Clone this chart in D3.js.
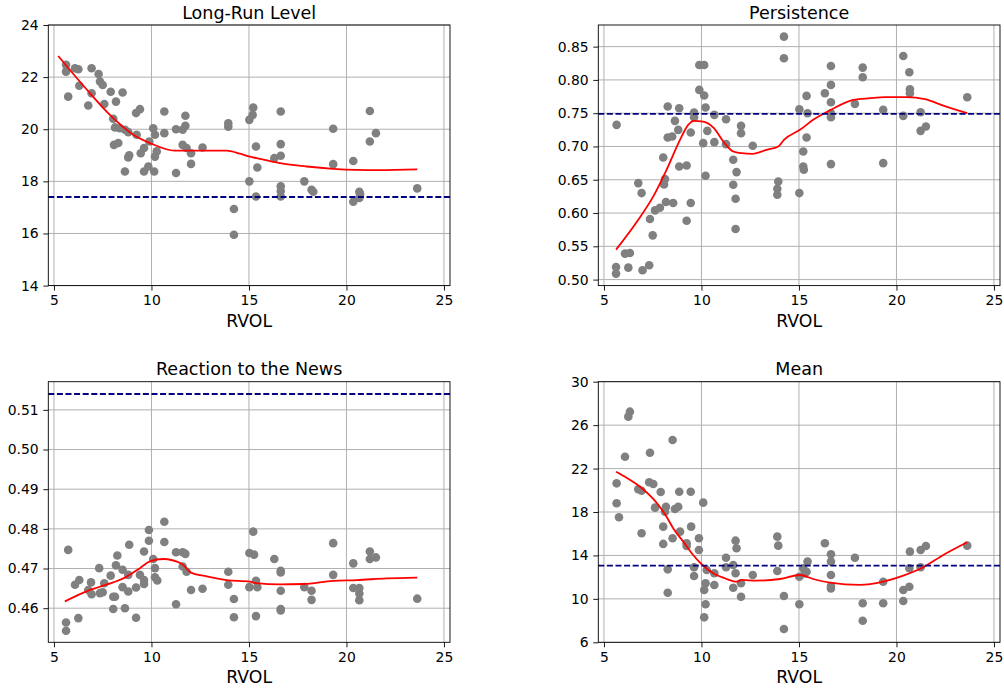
<!DOCTYPE html>
<html><head><meta charset="utf-8">
<script src="https://cdn.jsdelivr.net/npm/d3@7"></script>
<style>body{margin:0;background:#fff} svg{display:block} text{font-family:"DejaVu Sans",sans-serif;fill:#000}</style>
</head><body><svg id="c" width="1004" height="689"></svg>
<script>
// ---------- data ----------
const titles = ["Long-Run Level", "Persistence", "Reaction to the News", "Mean"];
const xLabel = "RVOL";
const xTicks = [5, 10, 15, 20, 25];
const xDomain = [4.71, 25.31];

// Long-Run Level
const lrX = [5.62,5.62,5.73,6.08,6.25,6.30,6.93,6.76,6.93,7.29,
             7.36,7.50,7.58,7.91,8.18,8.52,8.04,8.13,8.38,8.64,
             8.81,8.08,8.30,8.64,8.81,8.86,9.24,9.21,9.41,9.45,
             9.62,9.62,9.84,9.89,10.09,10.18,10.14,10.18,10.27,10.66,
             10.66,11.26,11.26,11.60,11.74,11.74,11.60,11.80,12.03,12.03,
             12.62,13.94,13.94,14.23,14.23,15.02,15.19,15.22,15.36,15.43,
             15.02,15.36,16.63,16.63,16.30,16.63,16.63,16.63,16.63,17.84,
             18.21,18.30,19.32,19.32,20.35,20.35,20.66,20.66,20.70,21.20,
             21.20,21.51,23.63];
const lrY = [22.47,22.21,21.25,22.34,22.30,21.67,22.34,20.91,21.38,22.12,
             21.83,21.70,20.97,21.44,21.06,21.41,20.40,20.07,20.04,19.98,
             19.89,19.40,19.47,18.38,18.92,19.00,19.79,20.62,20.77,19.08,
             19.28,18.38,18.57,19.53,20.04,19.79,18.38,18.95,19.15,20.68,
             19.85,20.00,18.32,19.98,20.52,20.13,19.40,19.28,19.08,18.67,
             19.30,20.23,20.10,16.94,15.95,20.36,20.55,20.83,19.34,18.53,
             18.00,17.42,20.68,19.43,18.89,18.98,17.81,17.63,17.42,18.00,
             17.68,17.60,20.02,18.66,18.78,17.22,17.36,17.60,17.50,20.70,
             19.53,19.85,17.73];
const lrFitX = [5.22,6.85,7.87,9.07,9.92,11.2,13.86,14.54,15.05,15.4,16.59,17.96,19.32,20.52,21.72,23.63];
const lrFitY = [22.81,21.38,20.55,19.79,19.47,19.18,19.18,19.06,18.95,18.89,18.70,18.57,18.48,18.44,18.43,18.46];
const lrRef = 17.40;
const lrTicks = [14, 16, 18, 20, 22, 24];

// Persistence
const peX = [5.65,5.62,5.62,6.08,6.33,6.25,6.76,6.93,6.98,7.32,
             7.36,7.50,7.62,7.87,8.04,8.13,8.08,8.18,8.27,8.27,
             8.50,8.55,8.64,8.86,8.81,8.86,9.24,9.24,9.45,9.45,
             9.62,9.62,9.89,9.89,10.14,10.14,10.21,10.09,10.30,10.21,
             10.66,10.66,11.26,11.26,11.63,11.63,11.80,11.75,11.75,12.03,
             12.03,12.63,14.23,14.23,13.94,13.89,13.89,15.02,15.02,15.39,
             15.44,15.39,15.22,15.22,15.25,16.33,16.64,16.64,16.64,16.64,
             16.64,16.64,17.87,18.27,18.27,19.32,19.32,20.35,20.35,20.66,
             20.69,20.69,21.24,21.24,21.51,23.63];
const peY = [0.7325,0.519,0.509,0.539,0.540,0.518,0.645,0.630,0.514,0.5215,
             0.591,0.5665,0.604,0.608,0.6835,0.651,0.643,0.6166,0.760,0.7135,
             0.715,0.615,0.7385,0.7575,0.725,0.670,0.6715,0.5885,0.721,0.615,
             0.751,0.744,0.785,0.8225,0.8225,0.7765,0.7585,0.705,0.7235,0.656,
             0.7475,0.7065,0.741,0.7035,0.680,0.6425,0.6615,0.6215,0.576,0.731,
             0.720,0.701,0.865,0.8325,0.6475,0.6366,0.6275,0.756,0.630,0.776,
             0.750,0.7135,0.6925,0.670,0.665,0.780,0.821,0.7925,0.7665,0.750,
             0.744,0.6735,0.764,0.8185,0.804,0.755,0.675,0.836,0.746,0.8115,
             0.786,0.780,0.7515,0.7235,0.730,0.774];
const peFitX = [5.62,6.76,7.53,8.21,8.9,9.32,9.62,10.09,10.64,11.12,11.63,12.06,12.63,13.34,13.94,14.23,15.05,15.73,16.64,17.78,18.64,19.41,20.52,21.46,22.4,23.63];
const peFitY = [0.545,0.590,0.625,0.665,0.71,0.7325,0.7385,0.7375,0.7275,0.7075,0.6925,0.690,0.689,0.695,0.70,0.710,0.725,0.74,0.755,0.77,0.7725,0.774,0.774,0.771,0.7615,0.75];
const peRef = 0.749;
const peTicks = [0.50, 0.55, 0.60, 0.65, 0.70, 0.75, 0.80, 0.85];

// Reaction to the News
const rnX = [5.62,5.62,5.73,6.08,6.25,6.30,6.76,6.90,6.93,7.32,
             7.36,7.50,7.58,7.91,8.04,8.13,8.04,8.18,8.25,8.52,
             8.52,8.64,8.81,8.86,8.81,9.21,9.21,9.41,9.62,9.62,
             9.62,9.87,9.87,10.09,10.18,10.18,10.30,10.66,10.66,11.26,
             11.26,11.60,11.74,11.60,11.80,12.03,12.62,13.94,13.94,14.23,
             14.23,15.22,15.02,15.26,15.36,15.43,15.02,15.36,16.30,16.63,
             16.63,16.63,16.63,16.63,17.84,18.21,18.21,19.32,19.32,20.35,
             20.35,20.66,20.66,20.66,21.20,21.20,21.51,23.63];
const rnY = [0.4564,0.4543,0.4747,0.4659,0.4575,0.4671,0.4646,0.4665,0.4635,0.4701,
             0.4638,0.4640,0.4663,0.4682,0.4629,0.4629,0.4598,0.4708,0.4733,0.4697,
             0.4653,0.4600,0.4642,0.4760,0.4684,0.4652,0.4576,0.4684,0.4743,0.4671,
             0.4661,0.4797,0.4770,0.4724,0.4701,0.4678,0.4670,0.4818,0.4767,0.4741,
             0.4610,0.4741,0.4737,0.4705,0.4692,0.4646,0.4649,0.4692,0.4659,0.4623,
             0.4577,0.4793,0.4739,0.4735,0.4669,0.4653,0.4653,0.4580,0.4724,0.4694,
             0.4690,0.4644,0.4598,0.4594,0.4653,0.4644,0.4621,0.4764,0.4684,0.4713,
             0.4651,0.4651,0.4637,0.4620,0.4743,0.4724,0.4728,0.4624];
const rnFitX = [5.56,6.85,8.04,8.64,9.41,9.92,10.6,11.55,12.06,12.66,13.86,15.05,15.36,16.59,17.78,19.32,20.52,22.06,23.63];
const rnFitY = [0.4617,0.4646,0.4665,0.4677,0.4701,0.4718,0.4724,0.4712,0.4689,0.4682,0.4671,0.4667,0.4663,0.4660,0.4661,0.4669,0.4671,0.4675,0.4677];
const rnRef = 0.514;
const rnTicks = [0.46, 0.47, 0.48, 0.49, 0.50, 0.51];

// Mean
const mnX = [5.65,5.65,5.77,6.08,6.25,6.33,6.76,6.93,6.93,7.36,
             7.32,7.53,7.62,7.91,8.04,8.04,8.13,8.18,8.27,8.27,
             8.52,8.52,8.64,8.81,8.86,8.90,9.24,9.24,9.45,9.47,
             9.62,9.62,9.87,9.87,10.09,10.14,10.21,10.21,10.14,10.27,
             10.66,10.66,11.26,11.26,11.63,11.63,11.75,11.80,11.75,12.03,
             12.03,12.63,13.89,13.94,13.89,14.23,14.23,15.02,15.02,15.22,
             15.39,15.44,15.30,16.33,16.64,16.64,16.64,16.64,16.64,17.87,
             18.27,18.27,19.32,19.32,20.35,20.35,20.66,20.66,20.69,21.24,
             21.24,21.51,23.63];
const mnY = [20.64,18.80,17.51,23.09,26.78,27.24,20.09,19.96,16.04,23.46,
             20.74,20.58,18.40,19.84,16.65,15.06,18.03,18.49,12.72,10.57,
             15.58,24.63,18.28,18.49,19.87,16.19,15.12,14.87,19.87,16.65,
             12.91,12.11,15.58,14.50,18.86,10.82,11.44,9.50,8.30,12.66,
             12.36,11.28,13.79,12.91,13.12,11.03,15.36,14.66,12.36,11.44,
             10.20,12.20,15.73,14.90,12.57,10.27,7.23,12.04,9.50,12.82,
             12.50,13.43,12.35,15.12,14.11,13.43,12.20,11.19,10.96,13.79,
             9.59,7.99,11.58,9.59,10.82,9.81,11.12,12.82,14.35,14.50,
             12.91,14.87,14.90];
const mnFitX = [5.62,6.16,6.85,7.53,8.21,8.55,9.07,9.5,10.01,10.6,11.2,11.8,12.06,12.83,14.03,15.05,15.73,16.59,18.13,19.32,20.35,21.37,22.4,23.63];
const mnFitY = [21.71,21.16,20.33,19.2,17.57,16.5,15.27,14.2,13.19,12.36,11.9,11.58,11.74,11.68,11.83,12.2,11.83,11.49,11.28,11.58,12.14,12.91,14.04,15.21];
const mnRef = 13.06;
const mnTicks = [6, 10, 14, 18, 22, 26, 30];

// ---------- drawing ----------
const panels = [
  {title: titles[0], xs: lrX, ys: lrY, fx: lrFitX, fy: lrFitY, ref: lrRef, yTicks: lrTicks, yDom: [14, 24], fmt: d3.format("d"), left: 48.3, top: 25},
  {title: titles[1], xs: peX, ys: peY, fx: peFitX, fy: peFitY, ref: peRef, yTicks: peTicks, yDom: [0.491, 0.8825], fmt: d3.format(".2f"), left: 598.3, top: 25},
  {title: titles[2], xs: rnX, ys: rnY, fx: rnFitX, fy: rnFitY, ref: rnRef, yTicks: rnTicks, yDom: [0.4514, 0.5171], fmt: d3.format(".2f"), left: 48.3, top: 381.7},
  {title: titles[3], xs: mnX, ys: mnY, fx: mnFitX, fy: mnFitY, ref: mnRef, yTicks: mnTicks, yDom: [6, 30], fmt: d3.format("d"), left: 598.3, top: 381.7}
];
const W = 401.7, H = 260.6;
const svg = d3.select("#c");

panels.forEach(p => {
  const x = d3.scaleLinear().domain(xDomain).range([p.left, p.left + W]);
  const y = d3.scaleLinear().domain(p.yDom).range([p.top + H, p.top]);
  const g = svg.append("g");

  // grid
  g.append("g").selectAll("line").data(xTicks).join("line")
    .attr("x1", d => x(d)).attr("x2", d => x(d))
    .attr("y1", p.top).attr("y2", p.top + H)
    .attr("stroke", "#b0b0b0").attr("stroke-width", 1);
  g.append("g").selectAll("line").data(p.yTicks).join("line")
    .attr("y1", d => y(d)).attr("y2", d => y(d))
    .attr("x1", p.left).attr("x2", p.left + W)
    .attr("stroke", "#b0b0b0").attr("stroke-width", 1);

  // points
  const pts = p.xs.map((v, i) => [v, p.ys[i]]);
  g.append("g").selectAll("circle").data(pts).join("circle")
    .attr("cx", d => x(d[0])).attr("cy", d => y(d[1])).attr("r", 4.3)
    .attr("fill", "#808080");

  // fitted curve
  const fit = p.fx.map((v, i) => [v, p.fy[i]]);
  g.append("path").datum(fit)
    .attr("d", d3.line().x(d => x(d[0])).y(d => y(d[1])).curve(d3.curveMonotoneX))
    .attr("fill", "none").attr("stroke", "#ff0000").attr("stroke-width", 1.8);

  // reference dashed line
  g.append("line")
    .attr("x1", p.left).attr("x2", p.left + W)
    .attr("y1", y(p.ref)).attr("y2", y(p.ref))
    .attr("stroke", "#000080").attr("stroke-width", 1.8)
    .attr("stroke-dasharray", "6,2.6");

  // axes
  const ax = g.append("g").attr("transform", `translate(0,${p.top + H})`)
    .call(d3.axisBottom(x).tickValues(xTicks).tickSize(5).tickPadding(5).tickFormat(d3.format("d")));
  const ay = g.append("g").attr("transform", `translate(${p.left},0)`)
    .call(d3.axisLeft(y).tickValues(p.yTicks).tickSize(5).tickPadding(4.6).tickFormat(p.fmt));
  [ax, ay].forEach(a => {
    a.select(".domain").remove();
    a.selectAll(".tick line").attr("stroke", "#000").attr("stroke-width", 0.9);
    a.selectAll(".tick text").attr("font-family", "DejaVu Sans").attr("font-size", "13.9px").attr("fill", "#000");
  });

  // spines
  g.append("rect").attr("x", p.left).attr("y", p.top).attr("width", W).attr("height", H)
    .attr("fill", "none").attr("stroke", "#000").attr("stroke-width", 0.9);

  // title and x label
  g.append("text").attr("x", p.left + W / 2).attr("y", p.top - 6.3)
    .attr("text-anchor", "middle").attr("font-size", "17.5px").text(p.title);
  g.append("text").attr("x", p.left + W / 2).attr("y", p.top + H + 41)
    .attr("text-anchor", "middle").attr("font-size", "17.3px").text(xLabel);
});
</script></body></html>
